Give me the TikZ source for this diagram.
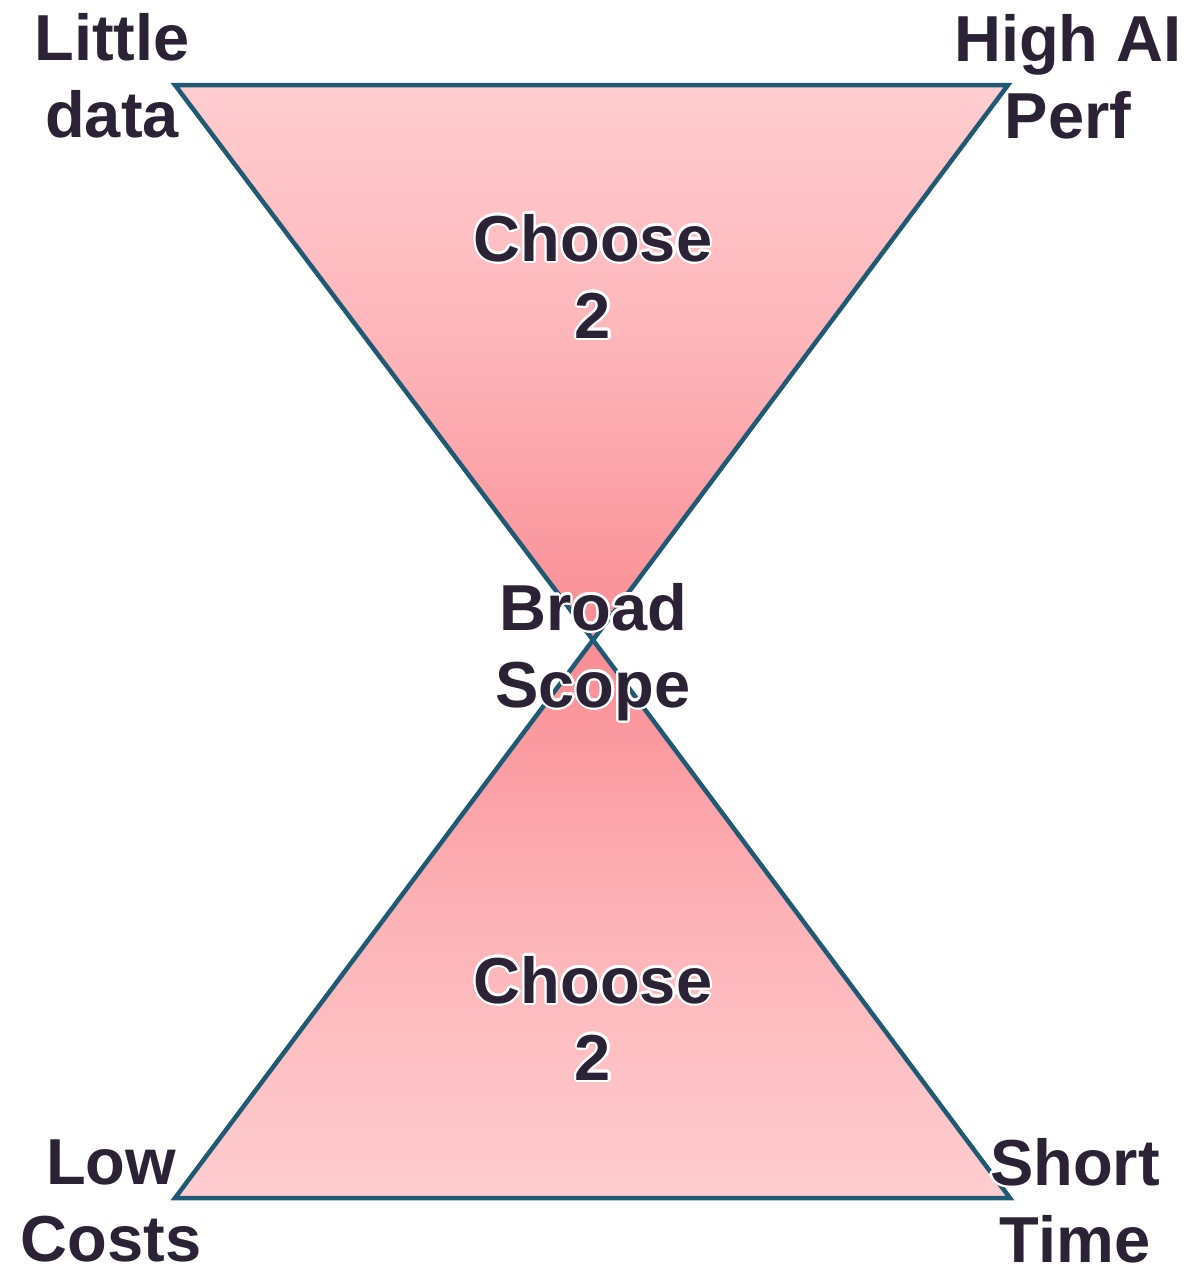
\documentclass[tikz,border=0pt]{standalone}
\usepackage{fontspec}
\setmainfont{Liberation Sans}
\usepackage[copies]{contour}
\contourlength{2.2pt}
\contournumber{24}
\definecolor{edgec}{HTML}{1E5A73}
\definecolor{txtc}{HTML}{2B2235}
\definecolor{lightpink}{HTML}{FFCDD0}
\definecolor{darkpink}{HTML}{F98C93}
\newcommand{\hl}[1]{\contour{white}{#1}}
\tikzset{
  lbl/.style={anchor=base, align=center, inner sep=0pt, text=txtc,
    font=\fontsize{65}{77}\selectfont\bfseries},
  tri/.style={draw=edgec, line width=4.5pt, line join=miter}
}
\begin{document}
\begin{tikzpicture}[x=1pt,y=-1pt]
\useasboundingbox (0,0) rectangle (1193,1270);
\coordinate (tl) at (175,85);
\coordinate (tr) at (1008,85);
\coordinate (mid) at (593,640);
\coordinate (bl) at (175,1198);
\coordinate (br) at (1010,1198);
\shadedraw[tri, top color=lightpink, bottom color=darkpink, middle color=lightpink!60!darkpink]
  (tl) -- (tr) -- (mid) -- cycle;
\shadedraw[tri, top color=darkpink, bottom color=lightpink, middle color=lightpink!60!darkpink]
  (mid) -- (bl) -- (br) -- cycle;
\node[lbl] (little) at (112,137) {\hl{Little}\\\hl{data}};
\node[lbl] (high) at (1068,138) {\hl{High AI}\\\hl{Perf}};
\node[lbl] (choose1) at (593,338) {\hl{Choose}\\\hl{2}};
\node[lbl] (broad) at (593,707) {\hl{Broad}\\\hl{Scope}};
\node[lbl] (choose2) at (593,1080) {\hl{Choose}\\\hl{2}};
\node[lbl] (low) at (111,1261) {\hl{Low}\\\hl{Costs}};
\node[lbl] (short) at (1075,1262) {\hl{Short}\\\hl{Time}};
\end{tikzpicture}
\end{document}
